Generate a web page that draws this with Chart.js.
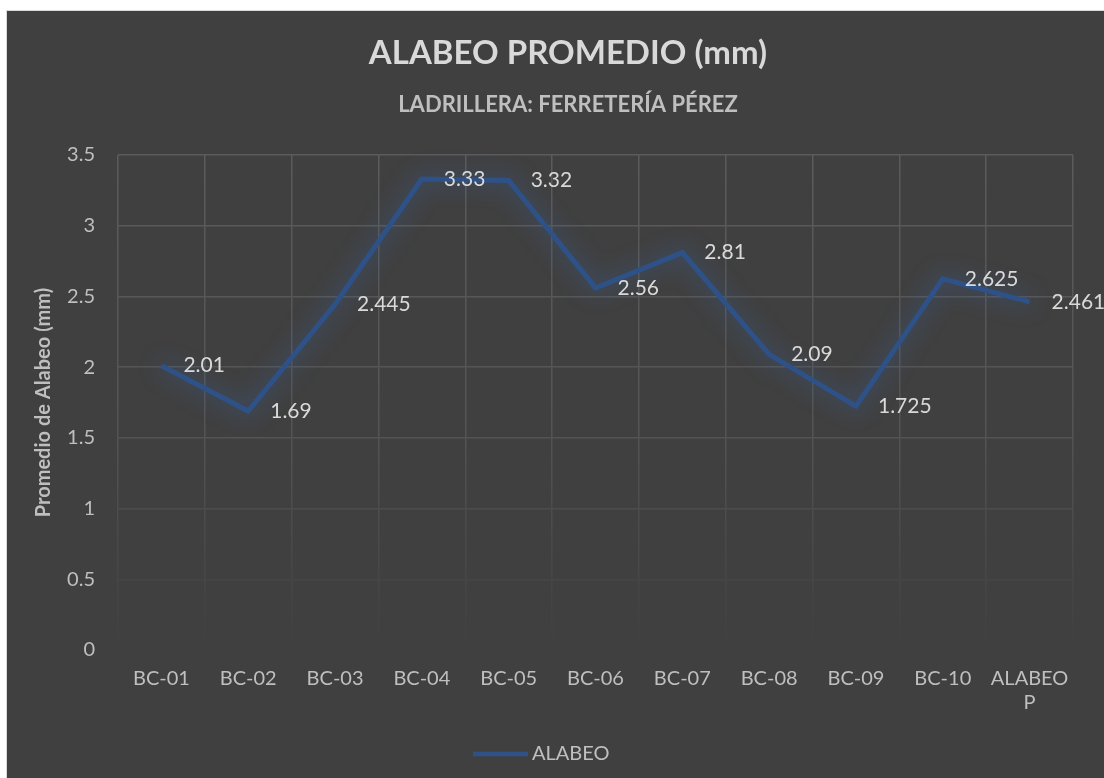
<!DOCTYPE html>
<html lang="es">
<head>
<meta charset="utf-8">
<title>Alabeo promedio</title>
<script src="https://cdn.jsdelivr.net/npm/chart.js@4.4.1/dist/chart.umd.min.js"></script>
<style>
  html, body { margin: 0; padding: 0; background: #fff; overflow: hidden; }
  #marco {
    position: absolute; left: 6px; top: 10px;
    width: 1130px; height: 768px;
    border-left: 1px solid #d9d9d9; border-top: 1px solid #d9d9d9;
    background: #404040;
  }
  #alabeoChart { display: block; }
</style>
</head>
<body>
<div id="marco"><canvas id="alabeoChart" width="1122" height="767"></canvas></div>
<script>
// Muestras de ladrillo y promedio final
const categorias = ['BC-01', 'BC-02', 'BC-03', 'BC-04', 'BC-05', 'BC-06', 'BC-07', 'BC-08', 'BC-09', 'BC-10', ['ALABEO', 'P']];
const alabeo = [2.01, 1.69, 2.445, 3.33, 3.32, 2.56, 2.81, 2.09, 1.725, 2.625, 2.461];
const marcasY = [0, 0.5, 1, 1.5, 2, 2.5, 3, 3.5];

const FUENTE = 'Lato, "Open Sans", sans-serif';
const AZUL = '#2e5287';
const GRIS_TEXTO = '#bfbfbf';

// Rejilla que se va apagando hacia abajo
function colorRejilla(context) {
  const chart = context.chart;
  const area = chart.chartArea;
  if (!area) return '#585858';
  const g = chart.ctx.createLinearGradient(0, area.top, 0, area.bottom);
  g.addColorStop(0, '#5b5b5b');
  g.addColorStop(0.55, '#545454');
  g.addColorStop(0.9, '#444444');
  g.addColorStop(1, '#404040');
  return g;
}

// Halo azul alrededor de la línea + etiquetas de valor a la derecha de cada punto
const halosYEtiquetas = {
  id: 'halosYEtiquetas',
  beforeDatasetsDraw(chart) {
    const ctx = chart.ctx;
    ctx.save();
    ctx.shadowColor = 'rgba(60, 105, 175, 0.75)';
    ctx.shadowBlur = 22;
  },
  afterDatasetsDraw(chart) {
    const ctx = chart.ctx;
    ctx.restore();
    const meta = chart.getDatasetMeta(0);
    ctx.save();
    ctx.font = '21px ' + FUENTE;
    ctx.fillStyle = '#d9d9d9';
    ctx.textAlign = 'left';
    ctx.textBaseline = 'middle';
    meta.data.forEach((pt, i) => {
      ctx.fillText(String(alabeo[i]), pt.x + 22, pt.y);
    });
    ctx.restore();
  }
};

// Leyenda inferior
const leyenda = {
  id: 'leyenda',
  afterDraw(chart) {
    const ctx = chart.ctx;
    const y = 743;
    ctx.save();
    ctx.strokeStyle = AZUL;
    ctx.lineWidth = 4.5;
    ctx.beginPath();
    ctx.moveTo(466, y);
    ctx.lineTo(521, y);
    ctx.stroke();
    ctx.font = '20px ' + FUENTE;
    ctx.fillStyle = GRIS_TEXTO;
    ctx.textBaseline = 'middle';
    ctx.fillText(chart.data.datasets[0].label, 525, y);
    ctx.restore();
  }
};

const ctx = document.getElementById('alabeoChart').getContext('2d');
new Chart(ctx, {
  type: 'line',
  data: {
    labels: categorias,
    datasets: [{
      label: 'ALABEO',
      data: alabeo,
      borderColor: AZUL,
      borderWidth: 5,
      pointRadius: 0,
      tension: 0,
      fill: false,
      clip: false
    }]
  },
  options: {
    responsive: false,
    animation: false,
    layout: { padding: { top: 0, left: 0, right: 0, bottom: 0 } },
    plugins: {
      legend: { display: false },
      tooltip: { enabled: false },
      title: {
        display: true,
        text: 'ALABEO PROMEDIO (mm)',
        color: '#d9d9d9',
        font: { family: FUENTE, size: 33, weight: 'bold' },
        padding: { top: 23, bottom: 8 }
      },
      subtitle: {
        display: true,
        text: 'LADRILLERA: FERRETERÍA PÉREZ',
        color: GRIS_TEXTO,
        font: { family: FUENTE, size: 22, weight: 'bold' },
        padding: { top: 10, bottom: 37 }
      }
    },
    scales: {
      x: {
        offset: true,
        grid: { offset: true, color: colorRejilla, lineWidth: 1.5, drawTicks: false },
        border: { display: false },
        ticks: {
          color: GRIS_TEXTO,
          font: { family: FUENTE, size: 20 },
          padding: 17,
          maxRotation: 0,
          autoSkip: false
        },
        afterFit(scale) { scale.height = 128; }
      },
      y: {
        min: 0,
        max: 3.5,
        afterBuildTicks(scale) { scale.ticks = marcasY.map(v => ({ value: v })); },
        grid: { color: colorRejilla, lineWidth: 1.5, drawTicks: false },
        border: { display: false },
        ticks: {
          color: GRIS_TEXTO,
          font: { family: FUENTE, size: 20 },
          padding: 23,
          callback: v => String(v)
        },
        title: {
          display: true,
          text: 'Promedio de Alabeo (mm)',
          color: GRIS_TEXTO,
          font: { family: FUENTE, size: 20, weight: 'bold' },
          padding: { top: 25, bottom: 0 }
        },
        afterFit(scale) { scale.width = 111; }
      },
      // margen derecho del área de trazado
      margen: {
        position: 'right',
        display: true,
        grid: { display: false },
        border: { display: false },
        ticks: { display: false },
        afterFit(scale) { scale.width = 56; }
      }
    }
  },
  plugins: [halosYEtiquetas, leyenda]
});
</script>
</body>
</html>
